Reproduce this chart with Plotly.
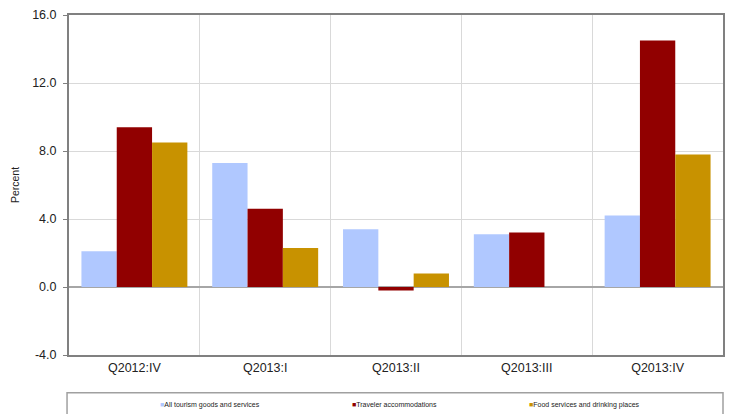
import plotly.graph_objects as go

# Quarterly percent change by tourism category
quarters = ["Q2012:IV", "Q2013:I", "Q2013:II", "Q2013:III", "Q2013:IV"]
all_tourism = [2.1, 7.3, 3.4, 3.1, 4.2]
traveler_accommodations = [9.4, 4.6, -0.2, 3.2, 14.5]
food_services = [8.5, 2.3, 0.8, None, 7.8]

series_names = [
    "All tourism goods and services",
    "Traveler accommodations",
    "Food services and drinking places",
]
series_colors = ["#B0C8FF", "#910000", "#C89200"]
series_values = [all_tourism, traveler_accommodations, food_services]

y_ticks = [-4.0, 0.0, 4.0, 8.0, 12.0, 16.0]
y_tick_labels = ["-4.0", "0.0", "4.0", "8.0", "12.0", "16.0"]

fig = go.Figure()
for name, color, vals in zip(series_names, series_colors, series_values):
    fig.add_trace(go.Bar(
        x=quarters, y=vals, name=name,
        marker=dict(color=color, line=dict(width=0)),
        showlegend=False,
    ))

font_family = "Liberation Sans, Arial, sans-serif"

fig.update_layout(
    width=733, height=414,
    margin=dict(l=69, r=8, t=14, b=59),
    paper_bgcolor="white", plot_bgcolor="white",
    barmode="group", bargap=0.19, bargroupgap=0,
    font=dict(family=font_family, size=12.5, color="#222222"),
    xaxis=dict(
        type="category",
        tickson="boundaries",
        showgrid=True, gridcolor="#D9D9D9", gridwidth=1,
        showline=True, linecolor="#808080", linewidth=2, mirror=True,
        ticks="", tickfont=dict(size=12.5),
    ),
    yaxis=dict(
        range=[-4, 16], tickvals=y_ticks, ticktext=y_tick_labels,
        showgrid=True, gridcolor="#D9D9D9", gridwidth=1,
        zeroline=True, zerolinecolor="#A6A6A6", zerolinewidth=1.5,
        showline=True, linecolor="#808080", linewidth=2, mirror=True,
        ticks="outside", ticklen=4, tickcolor="#808080",
        ticklabelstandoff=4,
        tickfont=dict(size=12.5),
        title=dict(text="Percent", font=dict(size=10.5), standoff=10),
    ),
)

# Legend panel below the plot
fig.add_shape(
    type="rect", xref="paper", yref="paper",
    x0=-0.003, x1=1.0, y0=-0.25, y1=-0.111,
    line=dict(color="#A0A0A0", width=1.5), fillcolor="white",
)
legend_x = [0.136, 0.43, 0.70]
for name, color, lx in zip(series_names, series_colors, legend_x):
    fig.add_annotation(
        xref="paper", yref="paper", x=lx, y=-0.147,
        xanchor="left", yanchor="middle", showarrow=False,
        text=f"<span style='color:{color}'>■</span>{name}",
        font=dict(size=7, family=font_family, color="#222222"),
    )

fig.write_html("out.html")
